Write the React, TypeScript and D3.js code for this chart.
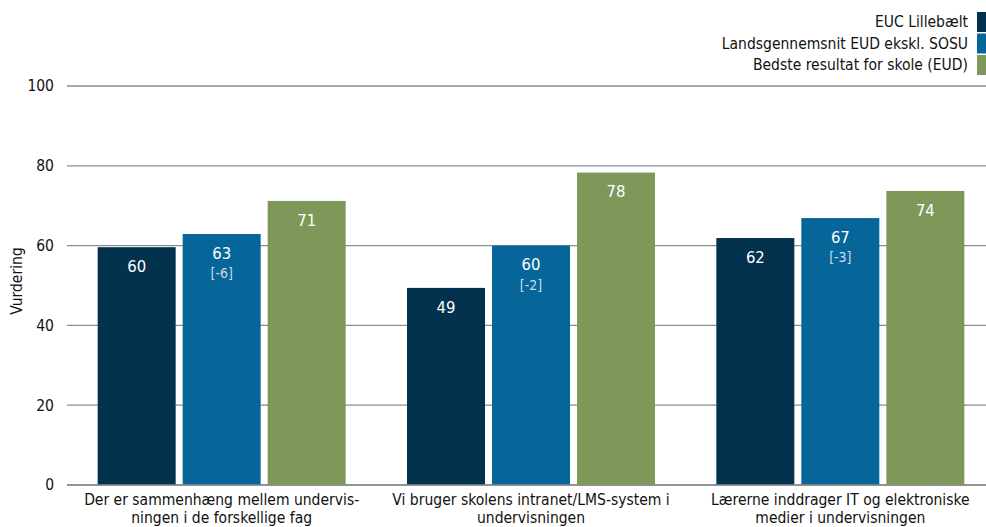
import React from "react";
import * as d3 from "d3";

const categories = [
  ["Der er sammenhæng mellem undervis-", "ningen i de forskellige fag"],
  ["Vi bruger skolens intranet/LMS-system  i", "undervisningen"],
  ["Lærerne inddrager IT og elektroniske", "medier i undervisningen"],
];
const seriesNames = ["EUC Lillebælt", "Landsgennemsnit EUD ekskl. SOSU", "Bedste resultat for skole (EUD)"];
const seriesColors = ["#03324f", "#076699", "#7e985a"];
const euc = [59.6, 49.4, 61.9];
const lands = [62.9, 60.0, 66.9];
const best = [71.2, 78.3, 73.7];
const diffs = ["[-6]", "[-2]", "[-3]"];
const yTicks = [0, 20, 40, 60, 80, 100];

const FONT = "Tahoma, 'DejaVu Sans Condensed', 'DejaVu Sans', sans-serif";

export default function App() {
  const W = 986, H = 527;
  const left = 67, right = 995, top = 86, bottom = 485;
  const y = d3.scaleLinear().domain([0, 100]).range([bottom, top]);
  const x0 = d3.scaleBand().domain(categories.map((_, i) => String(i))).range([left, right]).paddingInner(0).paddingOuter(0);
  const x1 = d3.scaleBand().domain(["0", "1", "2"]).range([0, 248]).paddingInner(7 / 85);
  const series = [euc, lands, best];
  const bw = x1.bandwidth();
  return (
    <svg width={W} height={H} style={{ position: "absolute", left: 0, top: 0, fontFamily: FONT }}>
      {yTicks.map((t) => (
        <g key={t}>
          <line x1={left} x2={right} y1={y(t)} y2={y(t)} stroke="#8c8c8c" strokeWidth={1.3} />
          <text x={54} y={y(t)} dy="0.35em" textAnchor="end" fontSize={15.5} fill="#111">{t}</text>
        </g>
      ))}
      <text transform={`translate(22,281) rotate(-90)`} textAnchor="middle" fontSize={15.5} fill="#111">Vurdering</text>
      {categories.map((cat, ci) => {
        const gx = (x0(String(ci)) as number) + (x0.bandwidth() - 248) / 2;
        return (
          <g key={ci}>
            {series.map((vals, si) => {
              const bx = gx + (x1(String(si)) as number);
              const by = y(vals[ci]);
              return (
                <g key={si}>
                  <rect x={bx} y={by} width={bw} height={bottom - by} fill={seriesColors[si]} />
                  <text x={bx + bw / 2} y={by + 19} dy="0.35em" textAnchor="middle" fontSize={16.5} fill="#fff">{Math.round(vals[ci])}</text>
                  {si === 1 && (
                    <text x={bx + bw / 2} y={by + 39} dy="0.35em" textAnchor="middle" fontSize={14} fill="#c9dcea">{diffs[ci]}</text>
                  )}
                </g>
              );
            })}
            {cat.map((line, li) => (
              <text key={li} x={(x0(String(ci)) as number) + x0.bandwidth() / 2} y={500 + li * 18} dy="0.35em" textAnchor="middle" fontSize={15.5} fill="#111">{line}</text>
            ))}
          </g>
        );
      })}
      <line x1={left} x2={right} y1={bottom} y2={bottom} stroke="#8c8c8c" strokeWidth={1.3} />
      {seriesNames.map((n, i) => (
        <g key={n}>
          <rect x={977} y={12 + i * 21.5} width={12} height={20} fill={seriesColors[i]} />
          <text x={968} y={22 + i * 21.5} dy="0.35em" textAnchor="end" fontSize={15.5} fill="#111">{n}</text>
        </g>
      ))}
    </svg>
  );
}
